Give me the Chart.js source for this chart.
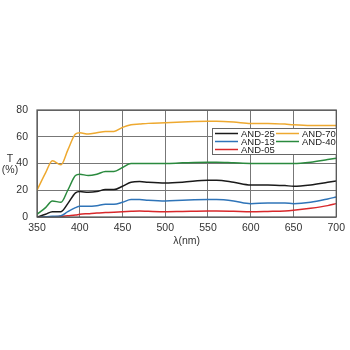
<!DOCTYPE html>
<html>
<head>
<meta charset="utf-8">
<script src="https://cdn.jsdelivr.net/npm/chart.js@4.4.0/dist/chart.umd.min.js"></script>
<style>
  html, body { margin: 0; padding: 0; background: #fff; }
  #wrap { width: 350px; height: 350px; }
</style>
</head>
<body>
<div id="wrap"><canvas id="chart" width="350" height="350"></canvas></div>
<script>
// wavelength samples (nm) and transmittance (%) per filter
var lambda = [350, 360, 368, 378, 386, 395, 400, 410, 420, 430, 440, 450, 460, 470, 480, 500, 520, 550, 560, 580, 600, 620, 640, 650, 670, 690, 700];
var and25 = [0, 2, 4, 4, 10, 18, 19, 18.5, 19, 20.5, 20.5, 23, 26, 26.5, 26, 25.5, 26, 27.5, 27.5, 26, 24, 24, 23.5, 23, 24, 26, 27];
var and70 = [20, 33, 42, 39, 50, 62, 63, 62, 63, 64, 64, 67, 69, 69.5, 70, 70.5, 71, 71.5, 71.5, 71, 70, 70, 69.5, 69, 68.5, 68.5, 68.5];
var and40 = [2, 7, 12, 11, 20, 31, 32, 31, 32, 34, 34, 37, 40, 40, 40, 40, 40.5, 41, 41, 40.5, 40, 40, 40, 40, 41, 43, 44];
var and13 = [0, 0.2, 0.5, 1, 4, 7, 8, 8, 8.5, 9.5, 9.5, 11, 13, 13, 12.5, 12, 12.5, 13, 13, 12, 10, 10.5, 10.5, 10, 11, 13.5, 15];
var and05 = [0, 0, 0.2, 0.5, 1, 1.5, 2, 2.5, 3, 3.3, 3.6, 4, 4.3, 4.5, 4.3, 4, 4.2, 4.5, 4.5, 4.3, 4, 4.2, 4.5, 5, 6.5, 8.5, 10];

var xTicks = [350, 400, 450, 500, 550, 600, 650, 700];
var yTicks = [0, 20, 40, 60, 80];

var series = [
  { label: 'AND-25', values: and25, color: '#1a1a1a' },
  { label: 'AND-13', values: and13, color: '#2f74b8' },
  { label: 'AND-05', values: and05, color: '#d8282b' },
  { label: 'AND-70', values: and70, color: '#eea930' },
  { label: 'AND-40', values: and40, color: '#2a8a3e' }
];

function toPoints(vals) {
  return lambda.map(function (x, i) { return { x: x, y: vals[i] }; });
}

var FONT = 'Liberation Sans, Arial, sans-serif';

// box legend inside plot + horizontal "T (%)" axis label
var extras = {
  id: 'extras',
  afterDraw: function (chart) {
    var ctx = chart.ctx;
    var a = chart.chartArea;
    ctx.save();
    // frame round the plot
    ctx.strokeStyle = '#555';
    ctx.lineWidth = 1.2;
    ctx.strokeRect(a.left, a.top, a.right - a.left, a.bottom - a.top);

    ctx.fillStyle = '#333';
    ctx.font = '10.5px ' + FONT;
    ctx.textAlign = 'center';
    ctx.textBaseline = 'middle';
    ctx.fillText('T', 10, 159);
    ctx.fillText('(%)', 10, 170);

    // legend box
    ctx.fillStyle = '#fff';
    ctx.fillRect(212, 128, 125, 27);
    ctx.strokeStyle = '#666';
    ctx.lineWidth = 1;
    ctx.strokeRect(212.5, 128.5, 124, 26);

    ctx.font = '9.5px ' + FONT;
    ctx.textAlign = 'left';
    var ds = chart.data.datasets;
    var pos = [[215, 133.5], [215, 141.5], [215, 149.5], [276, 133.5], [276, 141.5]];
    ds.forEach(function (d, i) {
      var p = pos[i];
      ctx.strokeStyle = d.borderColor;
      ctx.lineWidth = 1.5;
      ctx.beginPath();
      ctx.moveTo(p[0], p[1]);
      ctx.lineTo(p[0] + 23, p[1]);
      ctx.stroke();
      ctx.fillStyle = '#222';
      ctx.fillText(d.label, p[0] + 26, p[1] + 0.5);
    });
    ctx.restore();
  }
};

new Chart(document.getElementById('chart'), {
  type: 'line',
  data: {
    datasets: series.map(function (s) {
      return {
        label: s.label,
        data: toPoints(s.values),
        borderColor: s.color,
        backgroundColor: s.color,
        borderWidth: 1.5,
        pointRadius: 0,
        tension: 0.4,
        cubicInterpolationMode: 'monotone',
        fill: false
      };
    })
  },
  options: {
    responsive: false,
    animation: false,
    layout: { padding: { top: 110, right: 11, bottom: 103, left: 0 } },
    plugins: { legend: { display: false }, tooltip: { enabled: false } },
    scales: {
      x: {
        type: 'linear',
        min: 350,
        max: 700,
        afterBuildTicks: function (scale) { scale.ticks = xTicks.map(function (v) { return { value: v }; }); },
        afterFit: function (scale) { scale.height = 30; },
        grid: { color: '#777', lineWidth: 1, drawTicks: false },
        border: { display: false },
        ticks: { color: '#333', font: { family: FONT, size: 10.5 }, padding: 5, maxRotation: 0 },
        title: { display: true, text: 'λ(nm)', color: '#333', font: { family: FONT, size: 10.5 }, padding: 0 }
      },
      y: {
        min: 0,
        max: 80,
        afterBuildTicks: function (scale) { scale.ticks = yTicks.map(function (v) { return { value: v }; }); },
        afterFit: function (scale) { scale.width = 37; },
        grid: { color: '#777', lineWidth: 1, drawTicks: false },
        border: { display: false },
        ticks: { color: '#333', font: { family: FONT, size: 10.5 }, padding: 9 }
      }
    }
  },
  plugins: [extras]
});
</script>
</body>
</html>
